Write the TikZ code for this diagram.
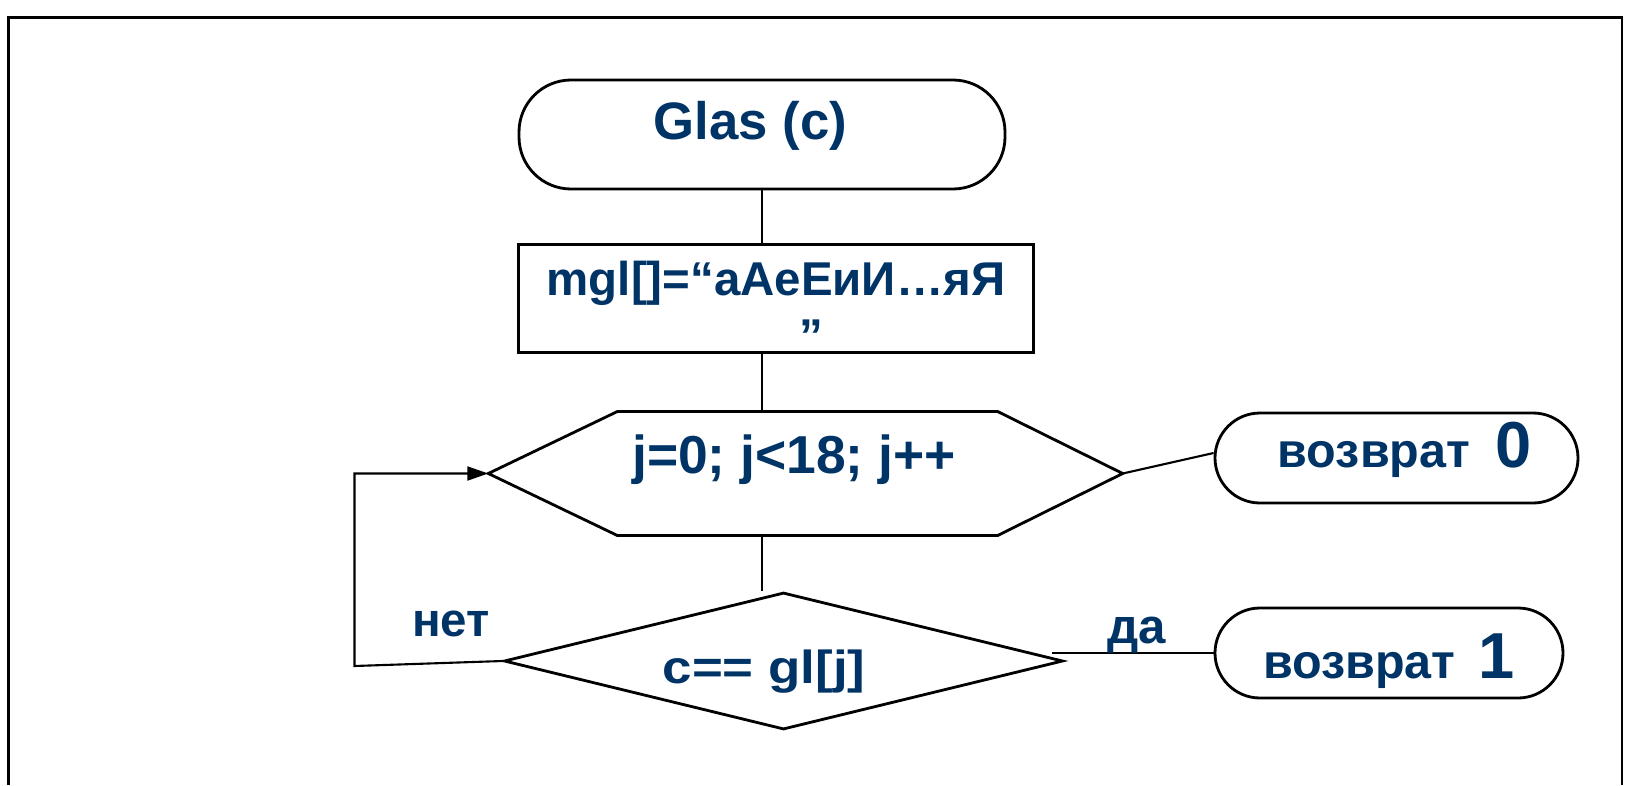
\documentclass[tikz,border=0pt]{standalone}
\usepackage{fontspec}
\setmainfont{Liberation Sans}
\usepackage{tikz}
\usepackage{xcolor}
\usetikzlibrary{shapes,arrows.meta,positioning,calc}
\definecolor{glasNavy}{RGB}{0,51,102}
\tikzset{
  lbl/.style={text=glasNavy, font=\bfseries\fontsize{14}{16}\selectfont},
  term/.style={draw, line width=0.8pt, rounded corners=#1, inner sep=0pt,
    text=glasNavy, font=\bfseries\fontsize{13.8}{16}\selectfont},
  procbox/.style={draw, line width=0.8pt, inner sep=0pt, align=center,
    text=glasNavy, font=\bfseries\fontsize{13.5}{16}\selectfont},
  conn/.style={line width=0.6pt}
}
\newcommand{\bignum}[1]{{\fontsize{18.5}{20}\selectfont #1}}

\begin{document}
\begin{tikzpicture}
                    \useasboundingbox (0,0) rectangle (16.25,-7.85);
                    % frame
                    \draw[line width=0.75pt] (0.083,-7.85) -- (0.083,-0.176) -- (16.22,-0.176) -- (16.22,-7.85);

                    \node[term=0.52cm, minimum width=4.86cm, minimum height=1.09cm, text height=0.3cm, text depth=0.21cm,
                          font=\bfseries\fontsize{15}{18}\selectfont] (start) at (7.62,-1.345)
                          {Glas (c)\hspace*{0.23cm}};
                    \node[procbox, minimum width=5.15cm, minimum height=1.07cm] (init) at (7.76,-2.985)
                          {\rule{0pt}{0.51cm}mgl[]=“аАеЕиИ…яЯ\\\hspace*{0.7cm}”};

                    % loop head
                    \node[inner sep=0pt, minimum width=6.33cm, minimum height=1.225cm, text height=0.25cm,
                          text depth=0.25cm, text=glasNavy, font=\bfseries\fontsize{15.2}{18}\selectfont]
                          (hexa) at (8.055,-4.735) {j=0; j<18; j++\hspace*{0.23cm}};
                    \draw[line width=0.8pt] ([xshift=1.29cm]hexa.north west) -- ([xshift=-1.25cm]hexa.north east)
                          -- (hexa.east) -- ([xshift=-1.25cm]hexa.south east)
                          -- ([xshift=1.29cm]hexa.south west) -- (hexa.west) -- cycle;

                    \node[draw, diamond, aspect=4, line width=0.8pt, inner sep=0pt, minimum width=5.59cm,
                          minimum height=1.37cm, text height=0.5cm, text depth=0.06cm, text=glasNavy,
                          font=\bfseries\fontsize{13.2}{16}\selectfont]
                          (check) at (7.835,-6.61) {\scalebox{1.14}[1]{c== gl[j]}\hspace*{0.39cm}};

                    \node[term=0.45cm, minimum width=3.63cm, minimum height=0.9cm, text height=0.3cm,
                          text depth=0.12cm] (ret0) at (13.965,-4.58)
                          {\hspace*{0.16cm}возврат\hspace{0.25cm}\bignum{0}};
                    \node[term=0.45cm, minimum width=3.48cm, minimum height=0.9cm, text height=0.5cm,
                          text depth=0cm] (ret1) at (13.89,-6.53)
                          {возврат\hspace{0.23cm}\bignum{1}};

                    \draw[conn] (start.south) -- (start.south |- init.north);
                    \draw[conn] (start.south |- init.south) -- (start.south |- hexa.north);
                    \draw[conn] (start.south |- hexa.south) -- (start.south |- check.north);

                    \coordinate (bend) at (3.545,-6.66);
                    \draw[conn, -{Triangle[length=0.21cm,width=0.14cm]}] (check.west) -- (bend) |- (hexa.west);
                    \draw[conn] (hexa.east) -- ([yshift=0.5mm]ret0.west);
                    \draw[conn] ([xshift=-1.2mm]check.east |- ret1.west) -- (ret1.west);

                    \node[lbl, anchor=base, font=\bfseries\fontsize{13.5}{16}\selectfont] (no) at (4.51,-6.36) {нет};
                    \node[lbl, anchor=base] (yes) at (11.37,-6.43) {да};
                \end{tikzpicture}
\end{document}
